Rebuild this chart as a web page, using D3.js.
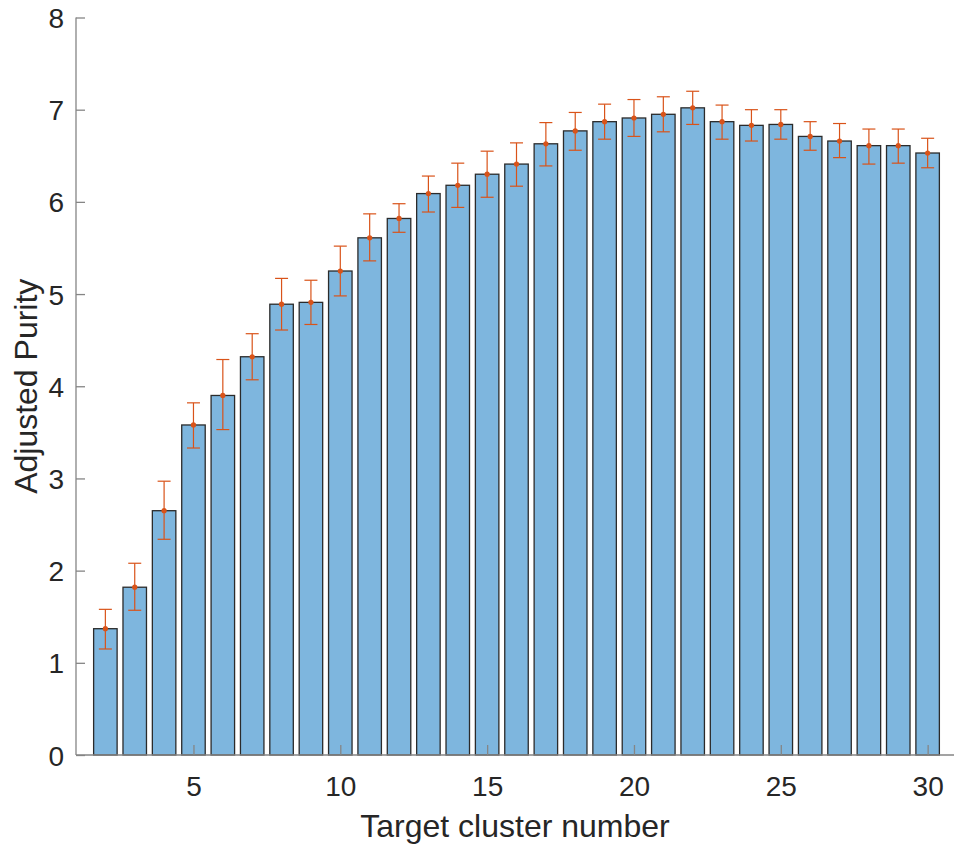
<!DOCTYPE html>
<html>
<head>
<meta charset="utf-8">
<script src="https://cdn.jsdelivr.net/npm/d3@7"></script>
<style>
  html, body { margin: 0; padding: 0; background: #fff; }
  svg { display: block; }
  text { font-family: "Liberation Sans", Arial, Helvetica, sans-serif; }
</style>
</head>
<body>
<svg id="chart" width="954" height="846"></svg>
<script>
// Target cluster numbers
const clusters = [2,3,4,5,6,7,8,9,10,11,12,13,14,15,16,17,18,19,20,21,22,23,24,25,26,27,28,29,30];
// Mean adjusted purity per cluster count
const purity = [1.37,1.82,2.65,3.58,3.90,4.32,4.89,4.91,5.25,5.61,5.82,6.09,6.18,6.30,6.41,6.63,6.77,6.87,6.91,6.95,7.02,6.87,6.83,6.84,6.71,6.66,6.61,6.61,6.53];
// Lower and upper ends of the error bars
const errLow  = [1.15,1.57,2.34,3.33,3.53,4.07,4.61,4.67,4.98,5.36,5.67,5.89,5.94,6.05,6.17,6.39,6.56,6.68,6.71,6.76,6.84,6.68,6.66,6.68,6.56,6.48,6.41,6.42,6.37];
const errHigh = [1.58,2.08,2.97,3.82,4.29,4.57,5.17,5.15,5.52,5.87,5.98,6.28,6.42,6.55,6.64,6.86,6.97,7.06,7.11,7.14,7.20,7.05,7.00,7.00,6.87,6.85,6.79,6.79,6.69];
const xTicks = [5,10,15,20,25,30];
const yTicks = [0,1,2,3,4,5,6,7,8];

const svg = d3.select("#chart");
const plotLeft = 76, plotRight = 957, plotTop = 17.5, plotBottom = 755;

const x = d3.scaleLinear().domain([1, 31]).range([plotLeft, plotRight]);
const y = d3.scaleLinear().domain([0, 8]).range([plotBottom, plotTop]);
const barW = (x(2) - x(1)) * 0.8;

const axisColor = "#858585";
const textColor = "#262626";

// Bars
svg.append("g").selectAll("rect")
  .data(clusters)
  .join("rect")
  .attr("x", (d) => x(d) - barW / 2)
  .attr("y", (d, i) => y(purity[i]))
  .attr("width", barW)
  .attr("height", (d, i) => y(0) - y(purity[i]))
  .attr("fill", "#7eb6de")
  .attr("stroke", "#2b2b2b")
  .attr("stroke-width", 1.3);

// Error bars
const errColor = "#d95319";
const capW = 6.5;
const eb = svg.append("g").attr("stroke", errColor).attr("stroke-width", 1.2);
clusters.forEach((d, i) => {
  const cx = x(d);
  eb.append("line").attr("x1", cx).attr("x2", cx).attr("y1", y(errLow[i])).attr("y2", y(errHigh[i]));
  eb.append("line").attr("x1", cx - capW).attr("x2", cx + capW).attr("y1", y(errLow[i])).attr("y2", y(errLow[i]));
  eb.append("line").attr("x1", cx - capW).attr("x2", cx + capW).attr("y1", y(errHigh[i])).attr("y2", y(errHigh[i]));
});
svg.append("g").selectAll("circle")
  .data(clusters)
  .join("circle")
  .attr("cx", (d) => x(d))
  .attr("cy", (d, i) => y(purity[i]))
  .attr("r", 2.6)
  .attr("fill", errColor);

// Y axis (ticks pointing inward)
const yAxis = svg.append("g")
  .attr("transform", `translate(${plotLeft},0)`)
  .call(d3.axisRight(y).tickValues(yTicks).tickSize(9).tickFormat(d3.format("d")));
yAxis.select(".domain").attr("d", `M0,${plotTop}V${plotBottom}`).attr("stroke", axisColor).attr("stroke-width", 1.3);
yAxis.selectAll(".tick line").attr("stroke", axisColor).attr("stroke-width", 1.3);
yAxis.selectAll(".tick text")
  .attr("x", -12).attr("dy", "0.36em")
  .attr("text-anchor", "end")
  .attr("fill", textColor)
  .style("font-size", "28px");

// X axis (ticks pointing inward)
const xAxis = svg.append("g")
  .attr("transform", `translate(0,${plotBottom})`)
  .call(d3.axisTop(x).tickValues(xTicks).tickSize(10).tickFormat(d3.format("d")));
xAxis.select(".domain").attr("d", `M${plotLeft},0H${plotRight}`).attr("stroke", axisColor).attr("stroke-width", 1.3);
xAxis.selectAll(".tick line").attr("stroke", axisColor).attr("stroke-width", 1.3);
xAxis.selectAll(".tick text")
  .attr("y", 41).attr("dy", 0)
  .attr("fill", textColor)
  .style("font-size", "28px");

// Axis titles
svg.append("text")
  .attr("x", (plotLeft + 954) / 2)
  .attr("y", 837)
  .attr("text-anchor", "middle")
  .attr("fill", textColor)
  .style("font-size", "32px")
  .text("Target cluster number");

svg.append("text")
  .attr("transform", `translate(37,${(plotTop + plotBottom) / 2}) rotate(-90)`)
  .attr("text-anchor", "middle")
  .attr("fill", textColor)
  .style("font-size", "32px")
  .text("Adjusted Purity");
</script>
</body>
</html>
